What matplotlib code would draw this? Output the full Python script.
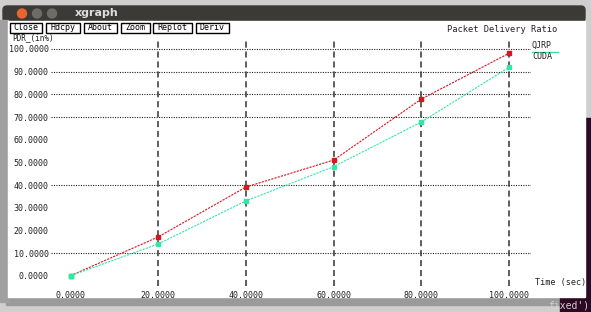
import matplotlib
matplotlib.use("Agg")
import matplotlib.pyplot as plt
from matplotlib.patches import Rectangle, Circle, FancyBboxPatch

# ---- data ----
time_sec = [0, 20, 40, 60, 80, 100]
pdr_a = [0.0, 17.1, 39.1, 51.0, 77.9, 98.1]   # red series
pdr_b = [0.0, 14.0, 33.0, 48.1, 67.8, 91.9]   # cyan series
series_names = ["QJRP", "CUDA"]
x_ticks = [0, 20, 40, 60, 80, 100]
y_ticks = [0, 10, 20, 30, 40, 50, 60, 70, 80, 90, 100]
h_grid = [10, 40, 70, 80, 90, 100]
v_grid = [20, 40, 60, 80, 100]
buttons = ["Close", "Hdcpy", "About", "Zoom", "Replot", "Deriv"]
button_x = [(10, 42), (46, 80), (84, 117), (121, 150), (153, 192), (196, 229)]

W, H = 591, 312
fig = plt.figure(figsize=(W / 100, H / 100), dpi=100)
mono = "DejaVu Sans Mono"

# ---- background / window decoration (pixel coordinates) ----
bg = fig.add_axes([0, 0, 1, 1])
bg.set_xlim(0, W)
bg.set_ylim(H, 0)
bg.axis("off")
bg.add_patch(Rectangle((0, 0), W, H, color="#cfcfcf", zorder=0))
# terminal on the right
bg.add_patch(Rectangle((575, 118), 20, 200, color="#2c0a22", zorder=0.5))
bg.add_patch(Rectangle((560, 296), 40, 20, color="#2c0a22", zorder=0.8))
bg.text(589, 305, "fixed')", color="#d8d0d8", fontsize=7, family=mono,
        ha="right", va="center", zorder=0.9)
# window shadow
bg.add_patch(Rectangle((6, 296), 554, 9, color="#9a9a9a", zorder=0.7))
# title bar
bg.add_patch(FancyBboxPatch((3, 6), 582, 16, boxstyle="round,pad=0,rounding_size=4",
                            color="#3b3a36", zorder=1))
bg.add_patch(Circle((22, 13.5), 4.5, color="#e8662e", zorder=2))
bg.add_patch(Circle((37, 13.5), 4.5, color="#6d6c68", zorder=2))
bg.add_patch(Circle((52, 13.5), 4.5, color="#6d6c68", zorder=2))
bg.text(75, 13.5, "xgraph", color="#dddddd", fontsize=8, fontweight="bold",
        ha="left", va="center", zorder=2)
# left gray strip
bg.add_patch(Rectangle((0, 20), 8, 282, color="#a0a0a0", zorder=1))
# white client area
bg.add_patch(Rectangle((8, 21), 577, 276, color="white", zorder=1))

# ---- plot axes ----
px_per_x = 4.385
px_per_y = 2.267
x0_px, y0_px = 70.5, 275.7
left_px, right_px, top_px, bot_px = 50, 531, 40, 290
ax = fig.add_axes([left_px / W, (H - bot_px) / H, (right_px - left_px) / W,
                   (bot_px - top_px) / H])
ax.set_facecolor("none")
ax.set_xlim((left_px - x0_px) / px_per_x, (right_px - x0_px) / px_per_x)
ax.set_ylim((y0_px - bot_px) / px_per_y, (y0_px - top_px) / px_per_y)
for s in ax.spines.values():
    s.set_visible(False)

xl = ax.get_xlim()
yl = ax.get_ylim()
ax.hlines(h_grid, xl[0] + 0.2, xl[1], colors="#222222", linewidth=0.8,
          linestyles=(0, (1, 1.2)), zorder=1)
ax.vlines(v_grid, (y0_px - 286) / px_per_y, yl[1], colors="#333333",
          linewidth=1.1, linestyles=(0, (4, 2.5)), zorder=1)

ax.plot(time_sec, pdr_a, color="#d8141e", linewidth=0.8, linestyle=(0, (2, 1)),
        marker="s", markersize=3.4, zorder=3)
ax.plot(time_sec, pdr_b, color="#33e6a6", linewidth=0.8, linestyle=(0, (2, 1)),
        marker="s", markersize=3.4, zorder=4)

ax.set_xticks(x_ticks)
ax.set_xticklabels([f"{v:.4f}" for v in x_ticks], family=mono, fontsize=6, color="#222222")
ax.set_yticks(y_ticks)
ax.set_yticklabels([f"{v:.4f}" for v in y_ticks], family=mono, fontsize=6, color="#222222")
ax.tick_params(axis="both", length=0)
ax.tick_params(axis="x", pad=0.5)
ax.tick_params(axis="y", pad=0.8)

# ---- text overlay ----
ov = fig.add_axes([0, 0, 1, 1])
ov.set_xlim(0, W)
ov.set_ylim(H, 0)
ov.axis("off")
ov.set_facecolor("none")
ov.text(12, 37.5, "PDR_(in%)", family=mono, fontsize=5.5, color="#222222",
        ha="left", va="center", zorder=1)
for (x1, x2), lab in zip(button_x, buttons):
    ov.add_patch(Rectangle((x1, 22.5), x2 - x1, 10, facecolor="white",
                           edgecolor="black", linewidth=1.0, zorder=2))
    ov.text((x1 + x2) / 2, 27.8, lab, family=mono, fontsize=6, color="black",
            ha="center", va="center", zorder=3)
ov.text(557, 29, "Packet Delivery Ratio", family=mono, fontsize=6.3,
        color="#222222", ha="right", va="center")
ov.text(586, 283, "Time (sec)", family=mono, fontsize=6.1, color="#222222",
        ha="right", va="center")
ov.text(532, 45.5, series_names[0], family=mono, fontsize=6, color="#222222",
        ha="left", va="center")
ov.plot([532, 558], [51.5, 51.5], color="#33e6a6", linewidth=1.0)
ov.text(532, 56.5, series_names[1], family=mono, fontsize=6, color="#222222",
        ha="left", va="center")

fig.savefig("out.png", dpi=100)
